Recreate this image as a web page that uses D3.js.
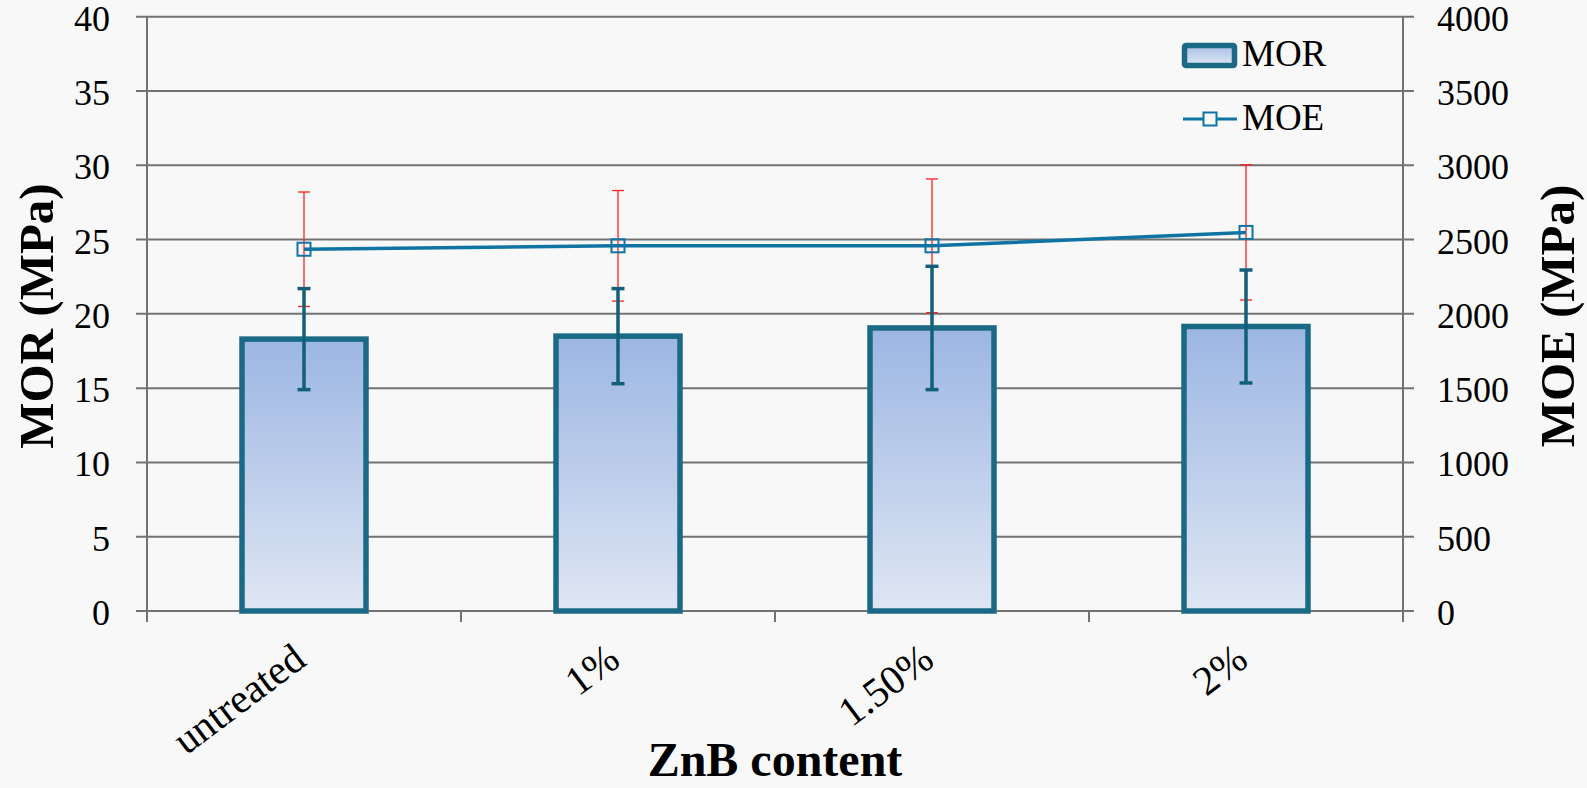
<!DOCTYPE html>
<html>
<head>
<meta charset="utf-8">
<script src="https://cdn.jsdelivr.net/npm/d3@7"></script>
<style>
html,body{margin:0;padding:0;background:#f8f8f8;}
svg{display:block;}
text{font-family:"Liberation Serif","DejaVu Serif",serif;fill:#000;}
</style>
</head>
<body>
<svg id="chart" width="1587" height="788"></svg>
<script>
// ---- data ----
const categories = ["untreated", "1%", "1.50%", "2%"];
const morValues = [18.3, 18.5, 19.05, 19.15];
const morErrors = [3.4, 3.2, 4.15, 3.8];
const moeValues = [2435, 2458, 2458, 2548];
const moeErrors = [385, 372, 450, 455];
const morTicks = [0, 5, 10, 15, 20, 25, 30, 35, 40];
const moeTicks = [0, 500, 1000, 1500, 2000, 2500, 3000, 3500, 4000];
const seriesNames = ["MOR", "MOE"];
const xTitle = "ZnB content";
const yLeftTitle = "MOR (MPa)";
const yRightTitle = "MOE (MPa)";

// ---- layout ----
const W = 1587, H = 788;
const plot = {left: 147, right: 1403, top: 16.7, bottom: 611};
const svg = d3.select("#chart");

const x = d3.scaleBand().domain(categories).range([plot.left, plot.right]).paddingInner(0.59).paddingOuter(0.295);
const yL = d3.scaleLinear().domain([0, 40]).range([plot.bottom, plot.top]);
const yR = d3.scaleLinear().domain([0, 4000]).range([plot.bottom, plot.top]);
const cx = c => x(c) + x.bandwidth() / 2;

// gradient for bars
const defs = svg.append("defs");
const grad = defs.append("linearGradient").attr("id", "barGrad").attr("x1", 0).attr("y1", 0).attr("x2", 0).attr("y2", 1);
grad.append("stop").attr("offset", "0%").attr("stop-color", "#9cb6e3");
grad.append("stop").attr("offset", "100%").attr("stop-color", "#dfe6f3");
const lgrad = defs.append("linearGradient").attr("id", "legGrad").attr("x1", 0).attr("y1", 0).attr("x2", 0).attr("y2", 1);
lgrad.append("stop").attr("offset", "0%").attr("stop-color", "#aabfe6");
lgrad.append("stop").attr("offset", "100%").attr("stop-color", "#dfe6f3");

const gridCol = "#727272";

// gridlines (with outward ticks on both sides)
svg.append("g").selectAll("line").data(morTicks).join("line")
  .attr("x1", plot.left - 11).attr("x2", plot.right + 11)
  .attr("y1", d => yL(d)).attr("y2", d => yL(d))
  .attr("stroke", gridCol).attr("stroke-width", 2);

// axes lines
svg.append("line").attr("x1", plot.left).attr("x2", plot.left).attr("y1", plot.top).attr("y2", plot.bottom + 11)
  .attr("stroke", gridCol).attr("stroke-width", 2);
svg.append("line").attr("x1", plot.right).attr("x2", plot.right).attr("y1", plot.top).attr("y2", plot.bottom + 11)
  .attr("stroke", gridCol).attr("stroke-width", 2);

// bottom axis ticks at category boundaries
const boundaries = d3.range(categories.length + 1).map(i => plot.left + i * (plot.right - plot.left) / categories.length);
svg.append("g").selectAll("line").data(boundaries).join("line")
  .attr("x1", d => d).attr("x2", d => d).attr("y1", plot.bottom).attr("y2", plot.bottom + 11)
  .attr("stroke", gridCol).attr("stroke-width", 2);

// left tick labels
svg.append("g").selectAll("text").data(morTicks).join("text")
  .attr("x", 110).attr("y", d => yL(d) + 14)
  .attr("text-anchor", "end").attr("font-size", 36).text(d => d);

// right tick labels
svg.append("g").selectAll("text").data(moeTicks).join("text")
  .attr("x", 1437).attr("y", d => yR(d) + 14)
  .attr("text-anchor", "start").attr("font-size", 36).text(d => d);

// bars
const barStroke = "#1b6a85";
svg.append("g").selectAll("rect").data(morValues).join("rect")
  .attr("x", (d, i) => cx(categories[i]) - 62)
  .attr("width", 124)
  .attr("y", d => yL(d))
  .attr("height", d => yL(0) - yL(d))
  .attr("fill", "url(#barGrad)")
  .attr("stroke", barStroke).attr("stroke-width", 5.5);

// MOE error bars (red)
const moeErr = svg.append("g").attr("stroke", "#ff2020").attr("stroke-width", 1.3);
moeValues.forEach((v, i) => {
  const c = cx(categories[i]);
  moeErr.append("line").attr("x1", c).attr("x2", c).attr("y1", yR(v + moeErrors[i])).attr("y2", yR(v - moeErrors[i]));
  moeErr.append("line").attr("x1", c - 6).attr("x2", c + 6).attr("y1", yR(v + moeErrors[i])).attr("y2", yR(v + moeErrors[i]));
  moeErr.append("line").attr("x1", c - 6).attr("x2", c + 6).attr("y1", yR(v - moeErrors[i])).attr("y2", yR(v - moeErrors[i]));
});

// MOR error bars (teal)
const morErr = svg.append("g").attr("stroke", "#135f79");
morValues.forEach((v, i) => {
  const c = cx(categories[i]);
  morErr.append("line").attr("x1", c).attr("x2", c).attr("y1", yL(v + morErrors[i])).attr("y2", yL(v - morErrors[i])).attr("stroke-width", 3.5);
  morErr.append("line").attr("x1", c - 6.5).attr("x2", c + 6.5).attr("y1", yL(v + morErrors[i])).attr("y2", yL(v + morErrors[i])).attr("stroke-width", 3.5);
  morErr.append("line").attr("x1", c - 6.5).attr("x2", c + 6.5).attr("y1", yL(v - morErrors[i])).attr("y2", yL(v - morErrors[i])).attr("stroke-width", 3.5);
});

// MOE line
const lineCol = "#0f74a3";
const line = d3.line().x((d, i) => cx(categories[i])).y(d => yR(d));
svg.append("path").datum(moeValues).attr("d", line)
  .attr("fill", "none").attr("stroke", lineCol).attr("stroke-width", 3.5);
svg.append("g").selectAll("rect").data(moeValues).join("rect")
  .attr("x", (d, i) => cx(categories[i]) - 6.5).attr("y", d => yR(d) - 6.5)
  .attr("width", 13).attr("height", 13)
  .attr("fill", "none").attr("stroke", lineCol).attr("stroke-width", 2);

// x category labels (rotated)
svg.append("g").selectAll("text").data(categories).join("text")
  .attr("transform", d => `translate(${cx(d) + 4},664) rotate(-37)`)
  .attr("text-anchor", "end").attr("font-size", 41).text(d => d);

// axis titles
svg.append("text").attr("x", 775).attr("y", 776).attr("text-anchor", "middle")
  .attr("font-size", 48).attr("font-weight", "bold").text(xTitle);
svg.append("text").attr("transform", "translate(53,316) rotate(-90)").attr("text-anchor", "middle")
  .attr("font-size", 49).attr("font-weight", "bold").text(yLeftTitle);
svg.append("text").attr("transform", "translate(1574,316) rotate(-90)").attr("text-anchor", "middle")
  .attr("font-size", 49).attr("font-weight", "bold").text(yRightTitle);

// legend
const leg = svg.append("g");
leg.append("rect").attr("x", 1184.5).attr("y", 45.5).attr("width", 50).attr("height", 20).attr("rx", 1.5)
  .attr("fill", "url(#legGrad)").attr("stroke", barStroke).attr("stroke-width", 5.5);
leg.append("text").attr("x", 1242).attr("y", 66).attr("font-size", 37).text(seriesNames[0]);
leg.append("line").attr("x1", 1183).attr("x2", 1237).attr("y1", 119).attr("y2", 119)
  .attr("stroke", lineCol).attr("stroke-width", 3);
leg.append("rect").attr("x", 1203.5).attr("y", 112.5).attr("width", 13).attr("height", 13)
  .attr("fill", "#f8f8f8").attr("stroke", lineCol).attr("stroke-width", 2);
leg.append("text").attr("x", 1242).attr("y", 130).attr("font-size", 37).text(seriesNames[1]);
</script>
</body>
</html>
